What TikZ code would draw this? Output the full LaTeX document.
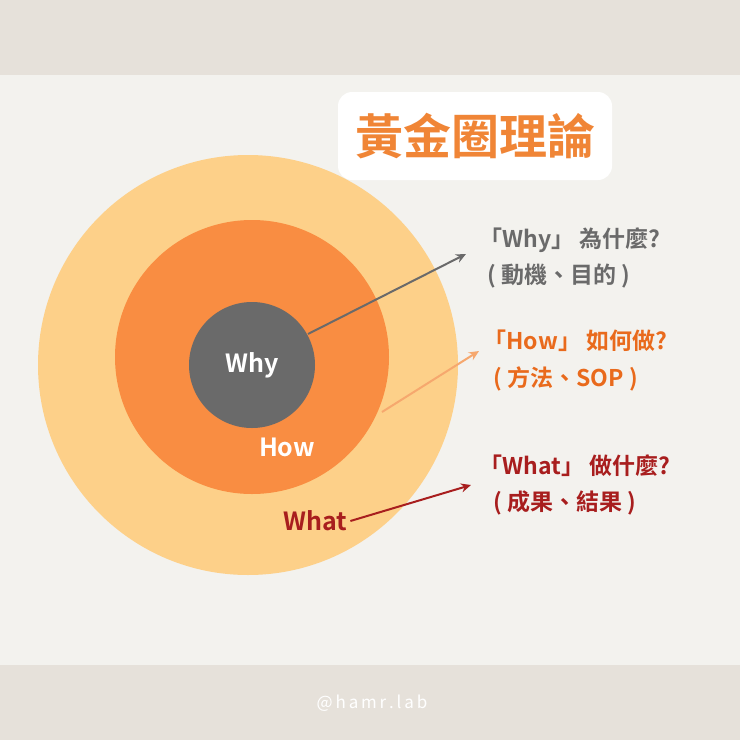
\documentclass[tikz,border=0pt]{standalone}
\usepackage{fontspec}
\setmainfont{Noto Sans CJK TC}[BoldFont={* Bold}]
\usetikzlibrary{arrows.meta}
\definecolor{band}{HTML}{E6E1DA}
\definecolor{bg}{HTML}{F3F2EE}
\definecolor{outerc}{HTML}{FDD089}
\definecolor{midc}{HTML}{F98D42}
\definecolor{innerc}{HTML}{6A6A6A}
\definecolor{titlec}{HTML}{F08536}
\definecolor{howc}{HTML}{E96A1C}
\definecolor{howarr}{HTML}{F6A86E}
\definecolor{whatc}{HTML}{A81E1E}
\tikzset{lbl/.style={font=\bfseries\fontsize{23}{28}\selectfont, anchor=west},
 arr/.style={line width=2pt,-{Stealth[length=10pt,width=9pt]}}}
\begin{document}
\begin{tikzpicture}[x=1pt,y=-1pt]
\useasboundingbox (0,0) rectangle (740,740);
\fill[bg] (0,0) rectangle (740,740);
\fill[band] (0,0) rectangle (740,75);
\fill[band] (0,665) rectangle (740,740);
\node[fill=white,rounded corners=14pt,minimum width=274pt,minimum height=88pt,text=titlec,font=\bfseries\fontsize{48}{54}\selectfont] (title) at (475,136) {黃金圈理論};
\fill[outerc] (248,365) circle (210);
\fill[midc] (252,357) circle (137);
\node[circle,fill=innerc,minimum size=126pt,text=white,font=\bfseries\fontsize{25}{30}\selectfont] (why) at (252,365) {Why};
\node[text=white,font=\bfseries\fontsize{25}{30}\selectfont] (how) at (287,447) {How};
\node[text=whatc,font=\bfseries\fontsize{25}{30}\selectfont] (what) at (315,521) {What};
\coordinate (ws) at (308,334);
\coordinate (hs) at (382,412);
\node[lbl,text=innerc] (wyl) at (476,240) {「Why」 為什麼?};
\node[lbl,text=innerc] (wyl2) at (484,276) {( 動機、目的 )};
\node[lbl,text=howc] (hl) at (480,341) {「How」 如何做?};
\node[lbl,text=howc] (hl2) at (490,379) {( 方法、SOP )};
\node[lbl,text=whatc] (tl) at (476,466) {「What」 做什麼?};
\node[lbl,text=whatc] (tl2) at (490,503) {( 成果、結果 )};
\draw[arr,innerc] (ws) -- (466,254);
\draw[arr,howarr] (hs) -- (479,351);
\draw[arr,whatc] (what.east) -- (471,485);
\node[text=white,font=\fontsize{17}{20}\selectfont] (foot) at (372,703) {@\,h\,a\,m\,r\,.\,l\,a\,b};
\end{tikzpicture}
\end{document}
